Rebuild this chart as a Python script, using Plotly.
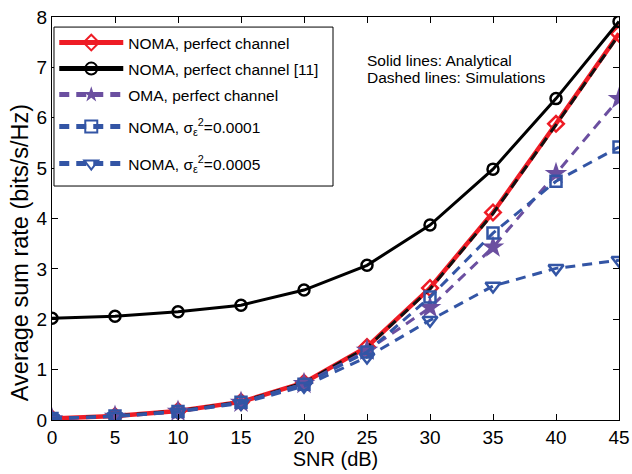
import plotly.graph_objects as go

snr = [0, 5, 10, 15, 20, 25, 30, 35, 40, 45]
noma_perfect = [0.03, 0.08, 0.18, 0.36, 0.74, 1.45, 2.62, 4.12, 5.88, 7.67]
noma_perfect_sim = [0.03, 0.08, 0.18, 0.36, 0.74, 1.44, 2.60, 4.10, 5.86, 7.65]
noma_ref11 = [2.02, 2.06, 2.15, 2.28, 2.58, 3.07, 3.87, 4.98, 6.38, 7.91]
oma_perfect = [0.02, 0.07, 0.17, 0.35, 0.72, 1.38, 2.23, 3.43, 4.89, 6.38]
noma_e1 = [0.03, 0.08, 0.17, 0.35, 0.71, 1.35, 2.44, 3.71, 4.74, 5.42]
noma_e5 = [0.03, 0.07, 0.16, 0.33, 0.67, 1.25, 1.98, 2.66, 3.01, 3.17]

red = "#EE1C25"
purple = "#6B4FA0"
blue = "#3355A5"
dash = "10px,7px"
FONT = "Liberation Sans, Arial"

fig = go.Figure()
fig.add_trace(go.Scatter(x=snr, y=noma_perfect, name="NOMA, perfect channel", legend="legend",
    mode="lines+markers", line=dict(color=red, width=4.5),
    marker=dict(symbol="diamond-open", size=12, color=red, line=dict(width=2.5, color=red))))
fig.add_trace(go.Scatter(x=snr, y=noma_ref11, name="NOMA, perfect channel [11]", legend="legend2",
    mode="lines+markers", line=dict(color="black", width=3),
    marker=dict(symbol="circle-open", size=11, color="black", line=dict(width=2.5, color="black"))))
fig.add_trace(go.Scatter(x=snr, y=noma_perfect_sim, name="sim", showlegend=False,
    mode="lines", line=dict(color="#111111", width=3, dash=dash)))
fig.add_trace(go.Scatter(x=snr, y=oma_perfect, name="OMA, perfect channel", legend="legend3",
    mode="lines+markers", line=dict(color=purple, width=3, dash=dash),
    marker=dict(symbol="star", size=17, color=purple, line=dict(width=0))))
fig.add_trace(go.Scatter(x=snr, y=noma_e1, name="NOMA, σ<sub>ε</sub><sup>2</sup>=0.0001", legend="legend4",
    mode="lines+markers", line=dict(color=blue, width=3, dash=dash),
    marker=dict(symbol="square-open", size=11, color=blue, line=dict(width=2.5, color=blue))))
fig.add_trace(go.Scatter(x=snr, y=noma_e5, name="NOMA, σ<sub>ε</sub><sup>2</sup>=0.0005", legend="legend5",
    mode="lines+markers", line=dict(color=blue, width=3, dash=dash),
    marker=dict(symbol="triangle-down-open", size=13, color=blue, line=dict(width=2.5, color=blue))))

axis_common = dict(showline=True, linecolor="black", linewidth=1, mirror="allticks",
                   ticks="inside", ticklen=6, tickcolor="black", showgrid=False, zeroline=False,
                   automargin=False,
                   tickfont=dict(family=FONT, size=19, color="black"))

legend_y_px = [43, 69, 95, 127, 164]
legends = {}
for i, ypx in enumerate(legend_y_px):
    key = "legend" if i == 0 else f"legend{i+1}"
    legends[key] = dict(x=0.004, y=(420 - ypx) / 403, xanchor="left", yanchor="middle",
                        bgcolor="rgba(0,0,0,0)", borderwidth=0, itemwidth=64,
                        itemsizing="constant", font=dict(size=15.5, family=FONT, color="black"))

fig.update_layout(
    width=632, height=474,
    margin=dict(l=52, r=13, t=17, b=54),
    plot_bgcolor="white", paper_bgcolor="white",
    font=dict(family=FONT, color="black"),
    xaxis=dict(range=[0, 45], tickvals=[0, 5, 10, 15, 20, 25, 30, 35, 40, 45],
               title=dict(text="SNR (dB)", font=dict(size=20), standoff=0), **axis_common),
    yaxis=dict(range=[0, 8], tickvals=[0, 1, 2, 3, 4, 5, 6, 7, 8], **axis_common),
    showlegend=True,
    **legends,
)
fig.add_shape(type="rect", xref="paper", yref="paper", x0=0.0035, x1=0.4956, y0=0.5806, y1=0.975,
              line=dict(color="black", width=1), fillcolor="white", layer="above")
fig.add_annotation(x=-0.0564, y=0.414, xref="paper", yref="paper", xanchor="center", yanchor="middle",
                   text="Average sum rate (bits/s/Hz)", textangle=-90, showarrow=False,
                   font=dict(size=23.5, family=FONT, color="black"))
fig.add_annotation(x=0.552, y=0.893, xref="paper", yref="paper", xanchor="left", yanchor="middle",
                   text="Solid lines: Analytical", showarrow=False,
                   font=dict(size=15.5, family=FONT, color="black"))
fig.add_annotation(x=0.552, y=0.851, xref="paper", yref="paper", xanchor="left", yanchor="middle",
                   text="Dashed lines: Simulations", showarrow=False,
                   font=dict(size=15.5, family=FONT, color="black"))

fig.write_html("out.html", config={"displayModeBar": False},
               post_script="document.body.style.margin='0';document.body.style.overflow='hidden';")
